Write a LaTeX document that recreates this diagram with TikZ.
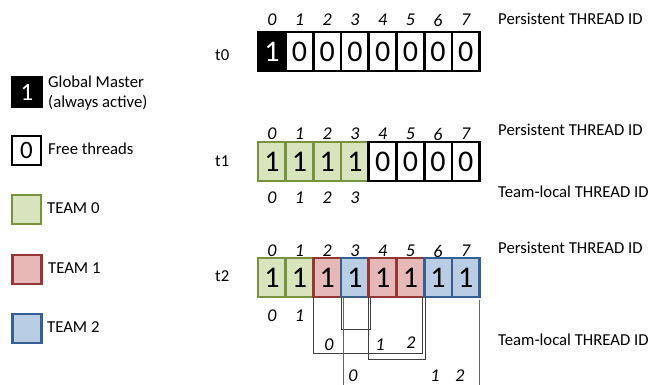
\documentclass[tikz,border=0pt]{standalone}
\usepackage{fontspec}
\setmainfont{Carlito}
\definecolor{gfill}{HTML}{D7E4BD}
\definecolor{gline}{HTML}{77933C}
\definecolor{rfill}{HTML}{E6B9B8}
\definecolor{rline}{HTML}{953735}
\definecolor{bfill}{HTML}{B9CDE5}
\definecolor{bline}{HTML}{376092}
\tikzset{
  cell/.style={draw, line width=2.7pt, minimum width=27.7pt, minimum height=39pt,
    inner sep=0pt, outer sep=0pt, font=\fontsize{30}{30}\selectfont},
  free/.style={cell, fill=white, draw=black},
  gm/.style={cell, fill=black, draw=black, text=white},
  tz/.style={cell, fill=gfill, draw=gline},
  to/.style={cell, fill=rfill, draw=rline},
  tt/.style={cell, fill=bfill, draw=bline},
  idx/.style={font=\fontsize{18}{18}\selectfont\itshape, inner sep=0pt},
  lbl/.style={font=\fontsize{16.7}{20}\selectfont, inner sep=0pt, anchor=west, align=left},
  lg/.style={draw, line width=2.7pt, minimum size=29pt, inner sep=0pt,
    font=\fontsize{25}{25}\selectfont},
  br/.style={draw=black!75, line width=1pt},
  brb/.style={draw=black!60, line width=1pt},
}
\begin{document}
\begin{tikzpicture}[x=1pt,y=-1pt]
\useasboundingbox (0,0) rectangle (651,385);

% legend
\node[lg, fill=black, draw=black, text=white] (lgm) at (27,92) {1};
\node[lbl] (lgmt) at (48,93) {Global Master\\(always active)};
\node[lg, fill=white, draw=black] (lfr) at (26.5,150.5) {0};
\node[lbl] (lfrt) at (48,149) {Free threads};
\node[lg, fill=gfill, draw=gline] (lt0) at (26.5,209.5) {};
\node[lbl] (lt0t) at (47,208) {TEAM 0};
\node[lg, fill=rfill, draw=rline] (lt1) at (27,269.5) {};
\node[lbl] (lt1t) at (48,268) {TEAM 1};
\node[lg, fill=bfill, draw=bline] (lt2) at (27,328.5) {};
\node[lbl] (lt2t) at (47,327) {TEAM 2};

% time step labels
\node[lbl] (t0) at (215,55) {t0};
\node[lbl] (t1) at (215,161) {t1};
\node[lbl] (t2) at (215,276) {t2};

% row t0
\foreach \i/\s/\v in {0/gm/1,1/free/0,2/free/0,3/free/0,4/free/0,5/free/0,6/free/0,7/free/0}
  \node[\s] (a\i) at (271.85+27.7*\i,51.5) {\v};
% row t1
\foreach \i/\s/\v in {0/tz/1,1/tz/1,2/tz/1,3/tz/1,4/free/0,5/free/0,6/free/0,7/free/0}
  \node[\s] (b\i) at (271.85+27.7*\i,161.5) {\v};
% row t2
\foreach \i/\s in {0/tz,1/tz,2/to,3/tt,4/to,5/to,6/tt,7/tt}
  \node[\s] (c\i) at (271.85+27.7*\i,277.5) {1};

% persistent ids
\foreach \i in {0,...,7} {
  \node[idx] (pa\i) at (a\i.center |- 0,20) {\i};
  \node[idx] (pb\i) at (b\i.center |- 0,134) {\i};
  \node[idx] (pc\i) at (c\i.center |- 0,251) {\i};
}

% team-local ids
\foreach \i in {0,...,3}
  \node[idx] (lb\i) at (b\i.center |- 0,198) {\i};
\node[idx] (lc0) at (c0.center |- 0,316) {0};
\node[idx] (lc1) at (c1.center |- 0,316) {1};
\node[idx] (lr0) at (329,345) {0};
\node[idx] (lr1) at (380,345) {1};
\node[idx] (lr2) at (411,343) {2};
\node[idx] (lu0) at (353,375.5) {0};
\node[idx] (lu1) at (435,375.5) {1};
\node[idx] (lu2) at (460,375.5) {2};

% team brackets
\draw[br] (c2.south west) -- ++(0,56) -| ([xshift=-2pt]c5.south east);
\draw[br] (c3.south west) -- ++(0,32) -| ([xshift=2pt]c4.south west);
\draw[br] (c4.south west) -- ++(0,62) -| ([xshift=1pt]c5.south east);
\draw[brb] ([xshift=2.3pt]c3.south west) -- ++(0,90);
\draw[brb] ([yshift=-3pt]c7.south east) -- ++(0,90);

% row captions
\node[lbl] (p0) at (498,19) {Persistent THREAD ID};
\node[lbl] (p1) at (498,130) {Persistent THREAD ID};
\node[lbl] (l1) at (498,192) {Team-local THREAD ID};
\node[lbl] (p2) at (498,248) {Persistent THREAD ID};
\node[lbl] (l2) at (498,340) {Team-local THREAD ID};
\end{tikzpicture}
\end{document}
